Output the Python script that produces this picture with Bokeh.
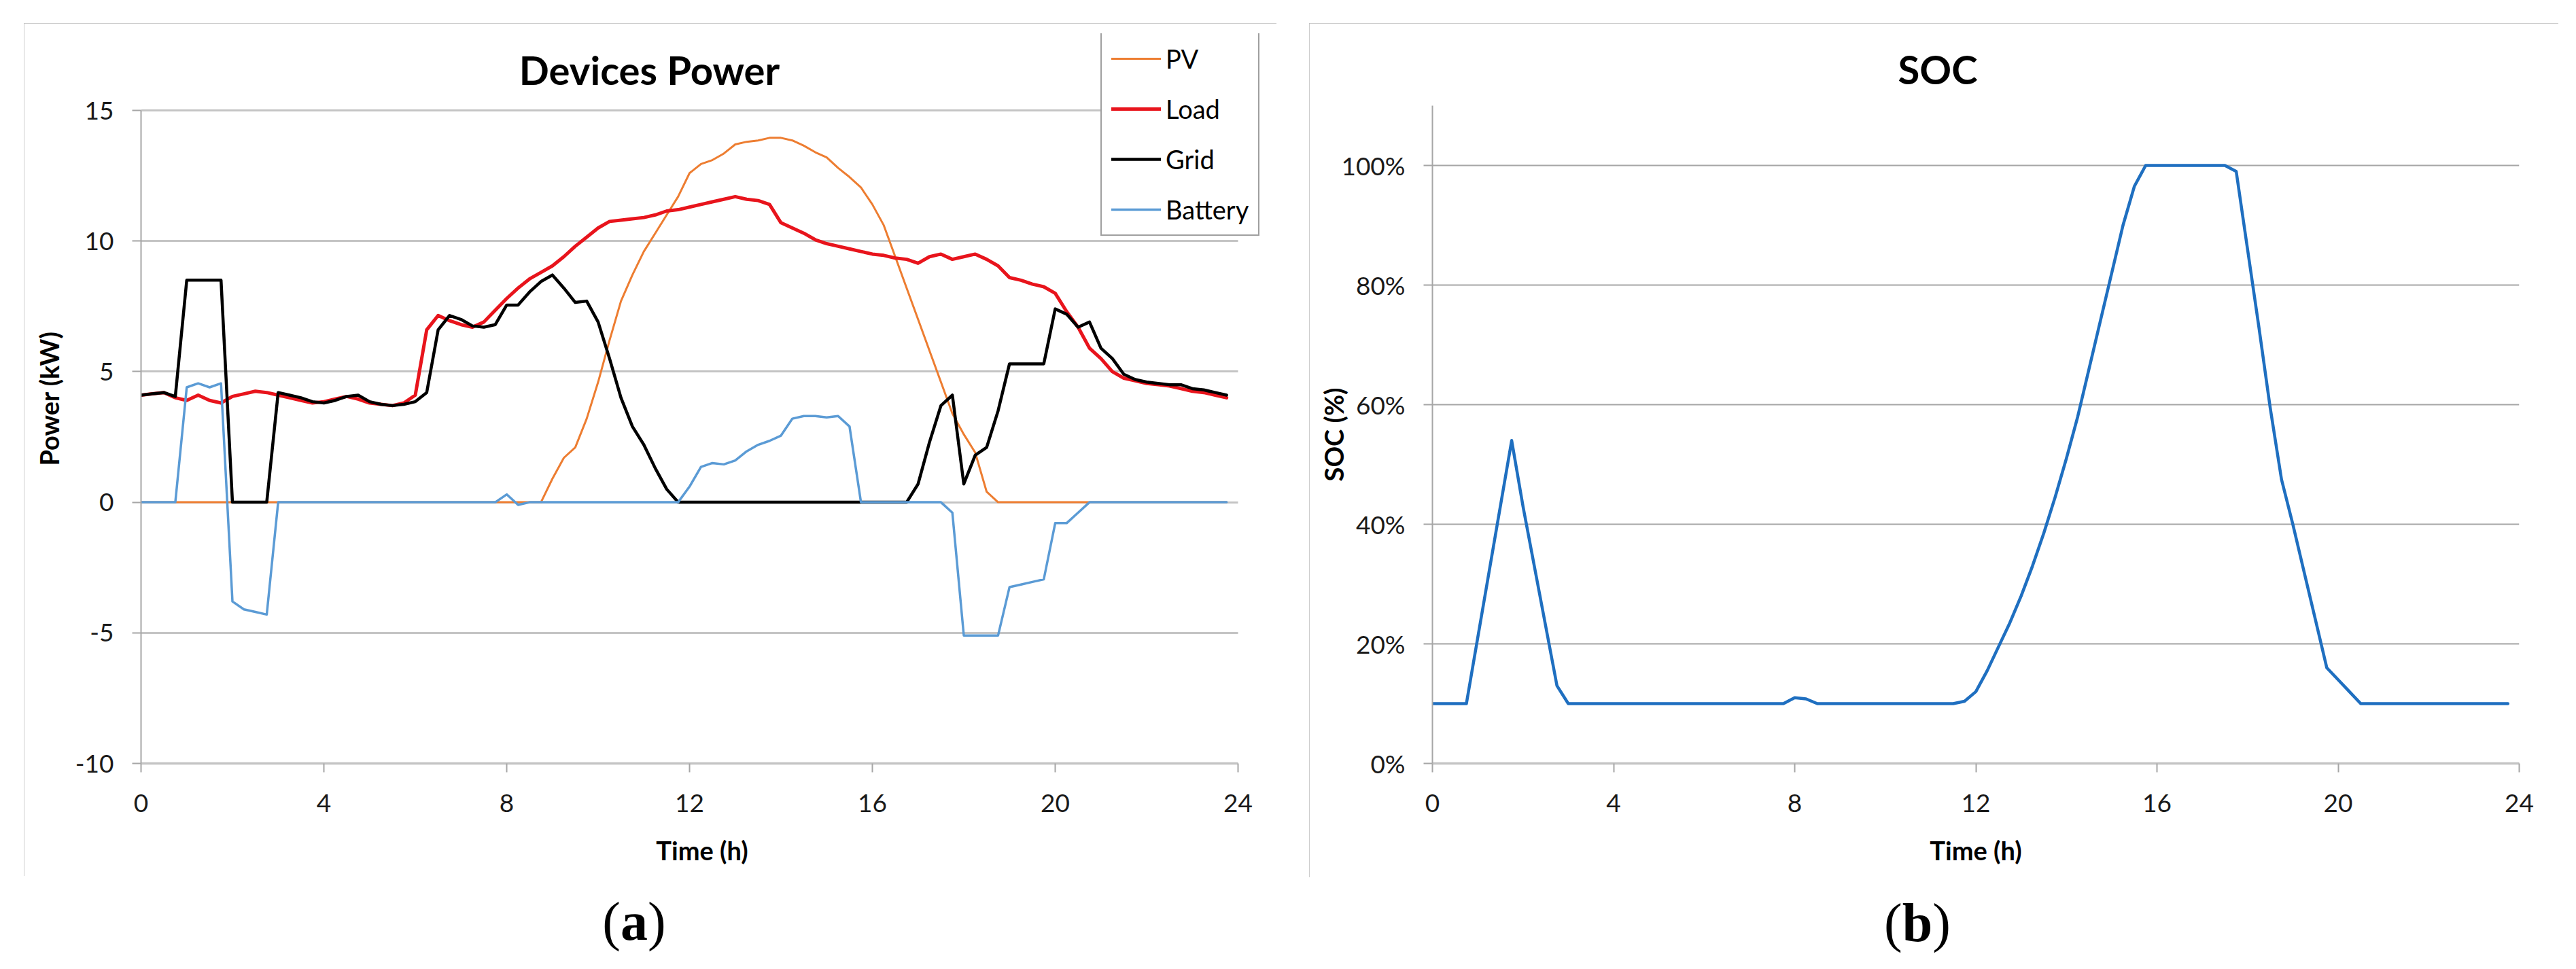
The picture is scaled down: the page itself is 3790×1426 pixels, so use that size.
from bokeh.plotting import figure
from bokeh.layouts import row, column
from bokeh.models import (FixedTicker, Legend, LegendItem, Range1d, Div, Label)
from bokeh.embed import file_html
from bokeh.resources import INLINE

# ---------------- data ----------------
hours = [
    0.0, 0.25, 0.5, 0.75, 1.0, 1.25, 1.5, 1.75,
    2.0, 2.25, 2.5, 2.75, 3.0, 3.25, 3.5, 3.75,
    4.0, 4.25, 4.5, 4.75, 5.0, 5.25, 5.5, 5.75,
    6.0, 6.25, 6.5, 6.75, 7.0, 7.25, 7.5, 7.75,
    8.0, 8.25, 8.5, 8.75, 9.0, 9.25, 9.5, 9.75,
    10.0, 10.25, 10.5, 10.75, 11.0, 11.25, 11.5, 11.75,
    12.0, 12.25, 12.5, 12.75, 13.0, 13.25, 13.5, 13.75,
    14.0, 14.25, 14.5, 14.75, 15.0, 15.25, 15.5, 15.75,
    16.0, 16.25, 16.5, 16.75, 17.0, 17.25, 17.5, 17.75,
    18.0, 18.25, 18.5, 18.75, 19.0, 19.25, 19.5, 19.75,
    20.0, 20.25, 20.5, 20.75, 21.0, 21.25, 21.5, 21.75,
    22.0, 22.25, 22.5, 22.75, 23.0, 23.25, 23.5, 23.75,
]

pv_kw = [
    0, 0, 0, 0, 0, 0, 0, 0,
    0, 0, 0, 0, 0, 0, 0, 0,
    0, 0, 0, 0, 0, 0, 0, 0,
    0, 0, 0, 0, 0, 0, 0, 0,
    0, 0, 0, 0, 0.9, 1.7, 2.1, 3.2,
    4.6, 6.2, 7.7, 8.7, 9.6, 10.3, 11.0, 11.7,
    12.6, 12.95, 13.1, 13.35, 13.7, 13.8, 13.85, 13.95,
    13.95, 13.85, 13.65, 13.4, 13.2, 12.8, 12.45, 12.05,
    11.4, 10.6, 9.4, 8.2, 7.0, 5.8, 4.6, 3.4,
    2.6, 1.9, 0.4, 0, 0, 0, 0, 0,
    0, 0, 0, 0, 0, 0, 0, 0,
    0, 0, 0, 0, 0, 0, 0, 0,
]

load_kw = [
    4.10, 4.15, 4.20, 4.00, 3.90, 4.10, 3.90, 3.80,
    4.05, 4.15, 4.25, 4.20, 4.10, 4.00, 3.90, 3.80,
    3.85, 3.95, 4.05, 3.95, 3.80, 3.75, 3.70, 3.80,
    4.10, 6.60, 7.15, 6.95, 6.80, 6.70, 6.90, 7.35,
    7.80, 8.20, 8.55, 8.80, 9.05, 9.40, 9.80, 10.15,
    10.50, 10.75, 10.80, 10.85, 10.90, 11.00, 11.15, 11.20,
    11.30, 11.40, 11.50, 11.60, 11.70, 11.60, 11.55, 11.40,
    10.70, 10.50, 10.30, 10.05, 9.90, 9.80, 9.70, 9.60,
    9.50, 9.45, 9.35, 9.30, 9.15, 9.40, 9.50, 9.30,
    9.40, 9.50, 9.30, 9.05, 8.60, 8.50, 8.35, 8.25,
    8.00, 7.30, 6.70, 5.90, 5.50, 5.00, 4.75, 4.65,
    4.55, 4.50, 4.45, 4.35, 4.25, 4.20, 4.10, 4.00,
]

grid_kw = [
    4.10, 4.15, 4.20, 4.05, 8.50, 8.50, 8.50, 8.50,
    0, 0, 0, 0, 4.20, 4.10, 4.00, 3.85,
    3.80, 3.90, 4.05, 4.10, 3.85, 3.75, 3.70, 3.75,
    3.85, 4.20, 6.60, 7.15, 7.00, 6.75, 6.70, 6.80,
    7.55, 7.55, 8.05, 8.45, 8.70, 8.20, 7.65, 7.70,
    6.90, 5.50, 4.00, 2.90, 2.20, 1.30, 0.50, 0,
    0, 0, 0, 0, 0, 0, 0, 0,
    0, 0, 0, 0, 0, 0, 0, 0,
    0, 0, 0, 0, 0.70, 2.30, 3.70, 4.10,
    0.70, 1.80, 2.10, 3.50, 5.30, 5.30, 5.30, 5.30,
    7.40, 7.20, 6.70, 6.90, 5.90, 5.50, 4.90, 4.70,
    4.60, 4.55, 4.50, 4.50, 4.35, 4.30, 4.20, 4.10,
]

battery_kw = [
    0, 0, 0, 0, 4.40, 4.55, 4.40, 4.55,
    -3.80, -4.10, -4.20, -4.30, 0, 0, 0, 0,
    0, 0, 0, 0, 0, 0, 0, 0,
    0, 0, 0, 0, 0, 0, 0, 0,
    0.30, -0.10, 0, 0, 0, 0, 0, 0,
    0, 0, 0, 0, 0, 0, 0, 0,
    0.60, 1.35, 1.50, 1.45, 1.60, 1.95, 2.20, 2.35,
    2.55, 3.20, 3.30, 3.30, 3.25, 3.30, 2.90, 0,
    0, 0, 0, 0, 0, 0, 0, -0.40,
    -5.10, -5.10, -5.10, -5.10, -3.25, -3.15, -3.05, -2.95,
    -0.80, -0.80, -0.40, 0, 0, 0, 0, 0,
    0, 0, 0, 0, 0, 0, 0, 0,
]

soc_pct = [
    10, 10, 10, 10, 21, 32, 43, 54,
    43, 33, 23, 13, 10, 10, 10, 10,
    10, 10, 10, 10, 10, 10, 10, 10,
    10, 10, 10, 10, 10, 10, 10, 10,
    11, 10.8, 10, 10, 10, 10, 10, 10,
    10, 10, 10, 10, 10, 10, 10, 10.4,
    12, 15.5, 19.5, 23.5, 28, 33, 38.5, 44.5,
    51, 58, 66, 74, 82, 90, 96.5, 100,
    100, 100, 100, 100, 100, 100, 100, 99,
    86, 73, 59.5, 47.5, 40, 32, 24, 16,
    14, 12, 10, 10, 10, 10, 10, 10,
    10, 10, 10, 10, 10, 10, 10, 10,
]

series_names = ["PV", "Load", "Grid", "Battery"]
series_colors = ["#ED7D31", "#E8141C", "#000000", "#5B9BD5"]
series_widths = [3.0, 5.0, 4.5, 3.5]

time_ticks = [0, 4, 8, 12, 16, 20, 24]
time_bounds = (0, 24)
power_ticks = [-10, -5, 0, 5, 10, 15]
power_tick_labels = ["-10", "-5", "0", "5", "10", "15"]
power_bounds = (-10, 15)
soc_ticks = [0, 20, 40, 60, 80, 100]
soc_tick_labels = ["0%", "20%", "40%", "60%", "80%", "100%"]
soc_bounds = (0, 110)

titles = ["Devices Power", "SOC"]
x_label = "Time (h)"
y_labels = ["Power (kW)", "SOC (%)"]
panel_letters = ["a", "b"]

FONT = "Lato"
SERIF = "Liberation Serif"
BORDER = {"outline": "2.5px solid #bdbdbd", "outline-offset": "-2.5px"}


def style_axes(p, grid_color, grid_width, y_label_standoff):
    p.outline_line_color = None
    p.background_fill_color = "white"
    p.border_fill_color = "white"
    p.xgrid.visible = False
    p.ygrid.grid_line_color = grid_color
    p.ygrid.grid_line_width = grid_width
    g = p.ygrid[0]
    if "cross_bounds" in g.properties():
        g.cross_bounds = time_bounds
    for ax in (p.xaxis[0], p.yaxis[0]):
        ax.major_label_text_font = FONT
        ax.major_label_text_font_size = "37px"
        ax.major_label_text_color = "#1a1a1a"
        ax.axis_label_text_font = FONT
        ax.axis_label_text_font_size = "38px"
        ax.axis_label_text_font_style = "bold"
        ax.axis_label_text_color = "#000000"
        ax.minor_tick_line_color = None
        ax.major_tick_in = 0
        ax.major_tick_out = 13
        ax.major_tick_line_color = "#a6a6a6"
        ax.major_tick_line_width = 2
    p.yaxis[0].axis_line_color = "#a6a6a6"
    p.yaxis[0].axis_line_width = 2
    p.yaxis[0].major_label_standoff = 27
    p.yaxis[0].axis_label_standoff = y_label_standoff
    p.xaxis[0].axis_line_color = "#c4c4c4"
    p.xaxis[0].axis_line_width = 3.5
    p.xaxis[0].major_label_standoff = 32
    p.xaxis[0].axis_label_standoff = 30
    p.xaxis[0].ticker = FixedTicker(ticks=time_ticks)
    p.xaxis[0].major_label_overrides = {t: str(t) for t in time_ticks}
    p.xaxis[0].axis_label = x_label
    p.xaxis[0].bounds = time_bounds


def tag(letter, width):
    return Div(text="(<b>%s</b>)" % letter, width=width, height=100,
               margin=(17, 0, 0, 0),
               styles={"font-family": SERIF, "font-size": "80px",
                       "line-height": "100px", "text-align": "center",
                       "color": "#000000"})


# ---------------- (a) Devices Power ----------------
# the plot frame reaches up to the legend top and out to the legend's right
# edge; the axes and grid lines are bounded to the data area
p1 = figure(frame_width=1651, frame_height=1074, x_range=Range1d(0, 24.55),
            y_range=Range1d(-10, 17.94), output_backend="svg",
            toolbar_location=None,
            min_border_left=172, min_border_right=20,
            min_border_top=15, min_border_bottom=166,
            styles=BORDER)
style_axes(p1, "#c4c4c4", 3, 13)
p1.yaxis[0].ticker = FixedTicker(ticks=power_ticks)
p1.yaxis[0].major_label_overrides = dict(zip(power_ticks, power_tick_labels))
p1.yaxis[0].axis_label = y_labels[0]
p1.yaxis[0].bounds = power_bounds

renderers = []
for name, ys, color, lw in zip(series_names,
                               [pv_kw, load_kw, grid_kw, battery_kw],
                               series_colors, series_widths):
    r = p1.line(hours, ys, line_color=color, line_width=lw,
                line_join="round", line_cap="round")
    renderers.append(r)

legend = Legend(items=[LegendItem(label=n, renderers=[r])
                       for n, r in zip(series_names, renderers)],
                location=(1412, 776))
legend.label_text_font = FONT
legend.label_text_font_size = "38px"
legend.label_text_color = "#000000"
legend.glyph_width = 73
legend.glyph_height = 40
legend.label_height = 40
legend.label_standoff = 7
legend.spacing = 28
legend.padding = 14
legend.margin = 0
legend.border_line_color = "#404040"
legend.border_line_width = 2.5
legend.background_fill_color = "white"
legend.background_fill_alpha = 1.0
p1.add_layout(legend)

p1.add_layout(Label(x=748, y=1021, x_units="screen", y_units="screen",
                    text=titles[0], text_font=FONT, text_font_size="58px",
                    text_font_style="bold", text_align="center",
                    text_baseline="middle", text_color="#000000"))

# ---------------- (b) SOC ----------------
p2 = figure(frame_width=1599, frame_height=968, x_range=Range1d(0, 24),
            y_range=Range1d(0, 110), output_backend="svg",
            toolbar_location=None, title=titles[1],
            min_border_left=181, min_border_right=58,
            min_border_top=121, min_border_bottom=168,
            styles=BORDER)
style_axes(p2, "#a6a6a6", 2, -15)
p2.title.text_font = FONT
p2.title.text_font_size = "58px"
p2.title.text_font_style = "bold"
p2.title.text_color = "#000000"
p2.title.align = "left"
p2.title.vertical_align = "bottom"
p2.title.offset = 685
p2.title.standoff = 40
p2.yaxis[0].ticker = FixedTicker(ticks=soc_ticks)
p2.yaxis[0].major_label_overrides = dict(zip(soc_ticks, soc_tick_labels))
p2.yaxis[0].axis_label = y_labels[1]
p2.yaxis[0].bounds = soc_bounds

p2.line(hours, soc_pct, line_color="#1F6FC0", line_width=4.5,
        line_join="round", line_cap="round")

col1 = column(p1, tag(panel_letters[0], 1796), margin=(34, 0, 0, 35), spacing=0)
col2 = column(p2, tag(panel_letters[1], 1790), margin=(34, 0, 0, 48), spacing=0)
layout = row(col1, col2, spacing=0)
open("out.html", "w").write(file_html(layout, INLINE))
